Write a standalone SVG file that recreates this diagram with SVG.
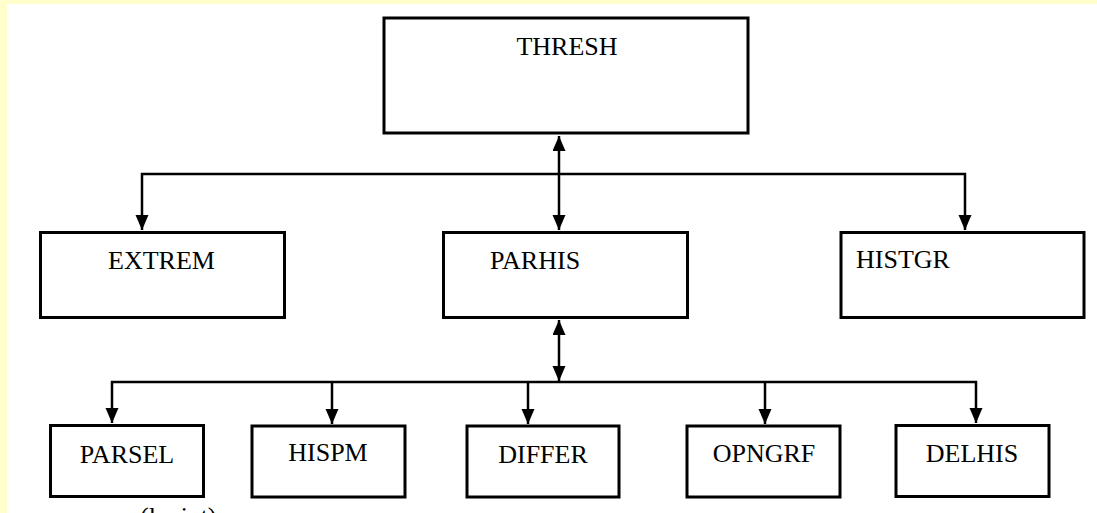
<svg xmlns="http://www.w3.org/2000/svg" width="1097" height="513" viewBox="0 0 1097 513">
<style>
.box{fill:#fff;stroke:#000;stroke-width:3}
.lbl{font-family:"Liberation Serif","Times New Roman",serif;font-size:26px;fill:#000}
.con{fill:none;stroke:#000;stroke-width:2.5}
</style>
<defs>
<marker id="arr" markerUnits="userSpaceOnUse" markerWidth="16" markerHeight="14" refX="15" refY="6.5" orient="auto-start-reverse">
<path d="M0,0 L15,6.5 L0,13 z" fill="#000"/>
</marker>
</defs>
<rect x="0" y="0" width="1097" height="513" fill="#fff"/>
<rect x="0" y="0" width="1097" height="4" fill="#ffffcc"/>
<rect x="0" y="0" width="7" height="513" fill="#ffffcc"/>
<g id="connectors">
<path class="con" d="M559,136 L559,230" marker-start="url(#arr)" marker-end="url(#arr)"/>
<path class="con" d="M142,230 L142,174 L965,174 L965,230" marker-start="url(#arr)" marker-end="url(#arr)"/>
<path class="con" d="M559,320 L559,381" marker-start="url(#arr)" marker-end="url(#arr)"/>
<path class="con" d="M112,423 L112,382 L976,382 L976,423" marker-start="url(#arr)" marker-end="url(#arr)"/>
<path class="con" d="M332,382 L332,424" marker-end="url(#arr)"/>
<path class="con" d="M528,382 L528,424" marker-end="url(#arr)"/>
<path class="con" d="M765,382 L765,424" marker-end="url(#arr)"/>
</g>
<g id="thresh"><rect class="box" x="384" y="18" width="364" height="115"/><text class="lbl" x="567" y="55" text-anchor="middle">THRESH</text></g>
<g id="extrem"><rect class="box" x="40.5" y="232.5" width="244" height="85"/><text class="lbl" x="108" y="269">EXTREM</text></g>
<g id="parhis"><rect class="box" x="443.5" y="232.5" width="244" height="85"/><text class="lbl" x="490" y="269">PARHIS</text></g>
<g id="histgr"><rect class="box" x="841" y="232.5" width="243" height="85"/><text class="lbl" x="856" y="268">HISTGR</text></g>
<g id="parsel"><rect class="box" x="50.5" y="425.5" width="153" height="71"/><text class="lbl" x="127" y="463" text-anchor="middle">PARSEL</text></g>
<g id="hispm"><rect class="box" x="252" y="426" width="153" height="71"/><text class="lbl" x="328" y="461" text-anchor="middle">HISPM</text></g>
<g id="differ"><rect class="box" x="467" y="426" width="152" height="71"/><text class="lbl" x="543" y="463" text-anchor="middle">DIFFER</text></g>
<g id="opngrf"><rect class="box" x="687" y="426" width="153" height="71"/><text class="lbl" x="764" y="462" text-anchor="middle">OPNGRF</text></g>
<g id="delhis"><rect class="box" x="896" y="425.5" width="153" height="71"/><text class="lbl" x="972" y="462" text-anchor="middle">DELHIS</text></g>
<text class="lbl" x="140" y="525" font-size="22">(lanjut)</text>
</svg>
